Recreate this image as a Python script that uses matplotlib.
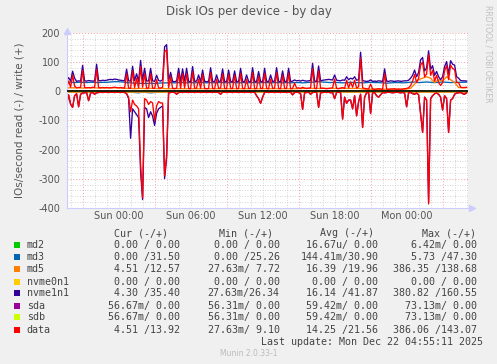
import numpy as np
import matplotlib
matplotlib.use("Agg")
import matplotlib.pyplot as plt
from matplotlib.patches import Rectangle

# time axis in hours relative to Sun 00:00, one sample per 10 minutes
t0 = -4.0 - 20.0 / 60.0
step = 10.0 / 60.0

# data (write, +) in IOs/s
data_wr = [13, 35, 14, 55, 18, 12, 13, 14, 72, 13,
           12, 13, 12, 14, 13, 75, 13, 12, 13, 12,
           13, 12, 12, 13, 14, 13, 12, 13, 12, 11,
           60, 11, 10, 70, 12, 45, 11, 85, 14, 60,
           10, 12, 60, 11, 10, 40, 12, 11, 14, 135,
           143, 12, 50, 10, 9, 11, 62, 10, 60, 11,
           60, 10, 9, 68, 10, 11, 42, 10, 58, 10,
           9, 10, 65, 10, 9, 42, 10, 11, 60, 10,
           9, 58, 10, 10, 55, 9, 10, 62, 10, 9,
           42, 10, 10, 65, 9, 10, 52, 10, 10, 62,
           10, 9, 42, 10, 11, 65, 10, 9, 55, 10,
           10, 62, 9, 10, 28, 11, 12, 10, 14, 11,
           10, 11, 12, 78, 10, 9, 70, 10, 11, 10,
           9, 10, 11, 12, 42, 10, 9, 11, 13, 10,
           38, 12, 32, 14, 38, 11, 16, 115, 12, 10,
           9, 8, 25, 8, 7, 8, 9, 8, 7, 60,
           8, 7, 8, 8, 9, 7, 8, 7, 8, 9,
           10, 12, 20, 35, 58, 30, 45, 90, 100, 50,
           60, 125, 55, 72, 35, 55, 30, 20, 30, 70,
           88, 40, 90, 78, 75, 30, 30, 14, 13, 13,
           14]
# data (read, -)
data_rd = [47, 12, 44, 55, 15, 8, 53, 10, 6, 5,
           4, 32, 6, 4, 10, 5, 4, 3, 4, 3,
           3, 4, 3, 3, 4, 3, 3, 4, 3, 4,
           8, 20, 70, 30, 45, 50, 60, 250, 365, 25,
           30, 45, 35, 40, 100, 50, 35, 40, 40, 290,
           220, 5, 4, 3, 4, 10, 4, 3, 4, 3,
           3, 4, 3, 3, 4, 3, 3, 4, 3, 3,
           4, 3, 3, 4, 3, 3, 4, 10, 3, 3,
           4, 3, 3, 4, 3, 3, 4, 3, 3, 4,
           3, 3, 4, 3, 3, 15, 25, 41, 20, 4,
           3, 4, 3, 3, 4, 3, 3, 4, 3, 3,
           4, 3, 3, 12, 4, 3, 4, 8, 62, 5,
           4, 3, 10, 4, 3, 4, 55, 5, 4, 3,
           4, 3, 5, 4, 25, 4, 3, 5, 95, 20,
           41, 30, 30, 60, 15, 84, 35, 10, 124, 20,
           5, 4, 76, 5, 4, 15, 20, 12, 4, 5,
           4, 3, 4, 5, 4, 3, 4, 5, 4, 6,
           53, 5, 4, 8, 10, 6, 12, 76, 141, 20,
           30, 386, 25, 15, 8, 6, 10, 20, 64, 15,
           25, 141, 30, 25, 10, 6, 5, 4, 8, 10,
           5]

nvme1_wr = [36, 47, 35, 69, 45, 34, 36, 35, 89, 36,
            35, 37, 36, 35, 36, 93, 37, 36, 38, 37,
            38, 40, 41, 40, 42, 41, 39, 38, 37, 36,
            76, 36, 35, 86, 37, 60, 34, 106, 38, 79,
            35, 36, 79, 36, 34, 55, 37, 35, 40, 153,
            160, 36, 65, 34, 33, 35, 79, 34, 77, 35,
            79, 34, 33, 85, 34, 35, 56, 33, 73, 34,
            33, 34, 81, 34, 33, 56, 34, 35, 77, 33,
            33, 73, 34, 33, 70, 33, 34, 79, 34, 33,
            56, 34, 33, 81, 33, 34, 68, 34, 33, 79,
            34, 33, 56, 34, 35, 81, 34, 33, 70, 34,
            33, 79, 33, 35, 39, 36, 37, 35, 38, 36,
            35, 36, 37, 96, 35, 34, 87, 36, 38, 39,
            40, 41, 40, 39, 56, 38, 37, 36, 39, 38,
            50, 40, 45, 42, 50, 38, 40, 134, 37, 35,
            34, 35, 39, 34, 35, 34, 36, 35, 34, 77,
            35, 34, 36, 35, 34, 35, 36, 34, 35, 36,
            36, 38, 45, 55, 73, 50, 65, 108, 116, 70,
            80, 139, 75, 88, 55, 68, 50, 40, 50, 85,
            102, 60, 105, 93, 90, 50, 45, 37, 36, 36,
            35]
nvme1_rd = [47, 12, 44, 55, 15, 8, 53, 10, 6, 5,
            4, 32, 6, 4, 10, 5, 4, 3, 4, 3,
            3, 4, 3, 3, 4, 3, 3, 4, 3, 4,
            8, 25, 161, 60, 70, 80, 90, 277, 371, 55,
            60, 90, 70, 85, 117, 75, 60, 55, 50, 299,
            230, 5, 4, 3, 4, 10, 4, 3, 4, 3,
            3, 4, 3, 3, 4, 3, 3, 4, 3, 3,
            4, 3, 3, 4, 3, 3, 4, 10, 3, 3,
            4, 3, 3, 4, 3, 3, 4, 3, 3, 4,
            3, 3, 4, 3, 3, 15, 25, 41, 20, 4,
            3, 4, 3, 3, 4, 3, 3, 4, 3, 3,
            4, 3, 3, 12, 4, 3, 4, 8, 62, 5,
            4, 3, 10, 4, 3, 4, 55, 5, 4, 3,
            4, 3, 5, 4, 25, 4, 3, 5, 95, 20,
            41, 30, 30, 60, 15, 84, 35, 10, 124, 20,
            5, 4, 76, 5, 4, 15, 20, 12, 4, 5,
            4, 3, 4, 5, 4, 3, 4, 5, 4, 6,
            53, 5, 4, 8, 10, 6, 12, 76, 141, 20,
            30, 381, 25, 15, 8, 6, 10, 20, 64, 15,
            25, 141, 30, 25, 10, 6, 5, 4, 8, 10,
            4]

# smoother series, one sample per 20 minutes
md3_wr = [31, 31, 30, 31, 31, 30, 31, 31, 30, 31,
          31, 32, 33, 33, 32, 30, 29, 28, 28, 27,
          27, 28, 27, 28, 29, 29, 30, 29, 30, 30,
          29, 30, 29, 30, 30, 29, 30, 29, 30, 30,
          29, 30, 30, 29, 30, 29, 30, 30, 29, 30,
          30, 29, 30, 30, 29, 30, 29, 30, 30, 29,
          30, 31, 32, 33, 32, 31, 30, 31, 30, 29,
          30, 31, 30, 30, 29, 30, 31, 30, 30, 29,
          28, 29, 30, 30, 29, 30, 31, 32, 30, 31,
          32, 31, 30, 31, 32, 31, 30, 31, 31, 31,
          31.5]
md3_rd = [0, 0, 0, 0, 0, 0, 0, 0, 0, 0,
          0, 0, 0, 0, 0, 1, 3, 4, 5, 3,
          4, 5, 4, 3, 2, 1, 0, 0, 0, 0,
          0, 0, 0, 0, 0, 0, 0, 0, 0, 0,
          0, 0, 0, 0, 0, 0, 0, 0, 0, 0,
          0, 0, 0, 0, 0, 0, 0, 0, 0, 0,
          0, 0, 0, 0, 0, 0, 0, 0, 0, 0,
          0, 0, 0, 0, 0, 0, 0, 0, 0, 0,
          0, 0, 0, 0, 0, 0, 0, 0, 0, 0,
          0, 0, 0, 0, 0, 0, 0, 0, 0, 0,
          0]
md5_wr = [12, 12, 12, 12, 11, 12, 12, 12, 11, 12,
          12, 12, 12, 12, 11, 10, 10, 9, 10, 10,
          9, 10, 10, 9, 10, 9, 9, 10, 9, 9,
          9, 9, 9, 9, 9, 9, 9, 9, 9, 9,
          9, 9, 9, 9, 9, 9, 9, 9, 9, 9,
          9, 9, 9, 9, 9, 9, 9, 9, 9, 10,
          10, 10, 10, 10, 10, 10, 10, 10, 10, 10,
          10, 10, 10, 10, 8, 7, 7, 7, 7, 7,
          7, 7, 7, 7, 7, 8, 10, 25, 40, 45,
          50, 45, 30, 40, 35, 50, 40, 30, 13, 12,
          12.5]
md5_rd = [3, 3, 3, 3, 3, 3, 3, 3, 3, 3,
          3, 3, 3, 3, 3, 3, 3, 3, 3, 3,
          3, 3, 3, 3, 3, 3, 3, 3, 3, 3,
          3, 3, 3, 3, 3, 3, 3, 3, 3, 3,
          3, 3, 3, 3, 3, 3, 3, 3, 3, 3,
          3, 3, 3, 3, 3, 3, 3, 3, 3, 3,
          3, 3, 3, 3, 3, 3, 3, 3, 3, 3,
          3, 3, 3, 3, 3, 3, 3, 3, 3, 3,
          3, 3, 3, 3, 3, 3, 3, 3, 3, 3,
          3, 3, 3, 3, 3, 3, 3, 3, 3, 3,
          4.5]

# devices that stay at zero all day
idle_names = ["md2", "nvme0n1", "sda", "sdb"]

legend_names = ["md2", "md3", "md5", "nvme0n1", "nvme1n1", "sda", "sdb", "data"]
legend_colors = ["#00CC00", "#0066B3", "#FF8000", "#FFCC00",
                 "#330099", "#990099", "#CCFF00", "#FF0000"]
cur_vals = ["0.00 / 0.00", "0.00 /31.50", "4.51 /12.57", "0.00 / 0.00",
            "4.30 /35.40", "56.67m/ 0.00", "56.67m/ 0.00", "4.51 /13.92"]
min_vals = ["0.00 / 0.00", "0.00 /25.26", "27.63m/ 7.72", "0.00 / 0.00",
            "27.63m/26.34", "56.31m/ 0.00", "56.31m/ 0.00", "27.63m/ 9.10"]
avg_vals = ["16.67u/ 0.00", "144.41m/30.90", "16.39 /19.96", "0.00 / 0.00",
            "16.14 /41.87", "59.42m/ 0.00", "59.42m/ 0.00", "14.25 /21.56"]
max_vals = ["6.42m/ 0.00", "5.73 /47.30", "386.35 /138.68", "0.00 / 0.00",
            "380.82 /160.55", "73.13m/ 0.00", "73.13m/ 0.00", "386.06 /143.07"]

ytick_vals = [200, 100, 0, -100, -200, -300, -400]
xtick_hours = [0, 6, 12, 18, 24]
xtick_labels = ["Sun 00:00", "Sun 06:00", "Sun 12:00", "Sun 18:00", "Mon 00:00"]

W, H = 497, 364
fig = plt.figure(figsize=(W / 100, H / 100), dpi=100, facecolor="#F0F0F0")


def fx(px):
    return px / W


def fy(py):
    return 1 - py / H


ax = fig.add_axes([fx(67), fy(208), (468 - 67) / W, (208 - 33) / H])
ax.set_facecolor("white")

x_lo, x_hi = -4.3, -4.3 + 401 / 12.0
ax.set_xlim(x_lo, x_hi)
ax.set_ylim(-400, 200)

# grid: grey dotted minor, red dotted major
for h in range(-4, 30):
    if (h + 3) % 6 == 0:
        ax.axvline(h, color="#F4A0A0", lw=0.7, ls=(0, (1, 2)), zorder=1)
    else:
        ax.axvline(h, color="#C8C8C8", lw=0.6, ls=(0, (1, 2)), zorder=0.5)
for v in range(-400, 201, 20):
    if v % 100 == 0:
        ax.axhline(v, color="#F4A0A0", lw=0.7, ls=(0, (1, 2)), zorder=1)
    else:
        ax.axhline(v, color="#C8C8C8", lw=0.6, ls=(0, (1, 2)), zorder=0.5)

t10 = t0 + step * np.arange(len(data_wr))
t20 = t0 + 2 * step * np.arange(len(md3_wr))
lw = 0.95

for name, col in zip(legend_names, legend_colors):
    if name in idle_names:
        ax.plot(t10, np.zeros(len(t10)), color=col, lw=lw, zorder=2)
    elif name == "md3":
        ax.plot(t20, -np.array(md3_rd), color=col, lw=lw, zorder=2)
        ax.plot(t20, md3_wr, color=col, lw=lw, zorder=2)
    elif name == "md5":
        ax.plot(t20, -np.array(md5_rd), color=col, lw=lw, zorder=2)
        ax.plot(t20, md5_wr, color=col, lw=lw, zorder=2)
    elif name == "nvme1n1":
        ax.plot(t10, -np.array(nvme1_rd), color=col, lw=lw, zorder=2)
        ax.plot(t10, nvme1_wr, color=col, lw=lw, zorder=2)
    elif name == "data":
        ax.plot(t10, -np.array(data_rd), color=col, lw=lw, zorder=2)
        ax.plot(t10, data_wr, color=col, lw=lw, zorder=2)

ax.axhline(0, color="black", lw=1.2, zorder=3)

# axes
for s in ["top", "right"]:
    ax.spines[s].set_visible(False)
ax.spines["left"].set_color("#CCCCFF")
ax.spines["bottom"].set_color("#CCCCFF")
ax.plot([x_lo], [206], marker="^", color="#CCCCFF", ms=4, clip_on=False, zorder=4)
ax.plot([x_hi + 0.3], [-400], marker=">", color="#CCCCFF", ms=4, clip_on=False, zorder=4)

ax.set_yticks(ytick_vals)
ax.set_yticklabels([str(v) for v in ytick_vals])
ax.set_xticks(xtick_hours)
ax.set_xticklabels(xtick_labels)
ax.tick_params(axis="y", length=0, pad=5, labelsize=7, labelcolor="#555555")
ax.tick_params(axis="x", length=0, pad=2.5, labelsize=7, labelcolor="#555555")

ax.set_ylabel("IOs/second read (-) / write (+)", fontsize=7.5, color="#555555", labelpad=10)

fig.text(0.5, fy(12), "Disk IOs per device - by day", ha="center", va="center",
         fontsize=8.5, color="#555555")
fig.text(fx(488), fy(5), "RRDTOOL / TOBI OETIKER", rotation=270, ha="center", va="top",
         fontsize=5.5, color="#C0C0C0")

# legend table
mono = "DejaVu Sans Mono"
fs = 7.2
tc = "#444444"
col_ends = [179.5, 279.5, 378.5, 477]
head_ends = [168.5, 272.7, 374, 476]
heads = ["Cur (-/+)", "Min (-/+)", "Avg (-/+)", "Max (-/+)"]
for hx, hd in zip(head_ends, heads):
    fig.text(fx(hx), fy(233.3), hd, ha="right", va="center", family=mono, fontsize=fs, color=tc)

row_y = [245, 257.3, 269.3, 281.7, 293.3, 305.7, 317.3, 329.7]
for k, name in enumerate(legend_names):
    y = row_y[k]
    fig.patches.append(Rectangle((fx(14), fy(y + 3)), 6 / W, 6 / H, transform=fig.transFigure,
                                 facecolor=legend_colors[k], edgecolor="none"))
    fig.text(fx(26.7), fy(y), name, ha="left", va="center", family=mono, fontsize=fs, color=tc)
    for cx, vals in zip(col_ends, [cur_vals, min_vals, avg_vals, max_vals]):
        fig.text(fx(cx), fy(y), vals[k], ha="right", va="center", family=mono, fontsize=fs, color=tc)

fig.text(fx(483), fy(341.7), "Last update: Mon Dec 22 04:55:11 2025", ha="right", va="center",
         family=mono, fontsize=fs, color=tc)
fig.text(fx(248.5), fy(353.3), "Munin 2.0.33-1", ha="center", va="center",
         fontsize=5.5, color="#BBBBBB")

fig.savefig("out.png", dpi=100, facecolor=fig.get_facecolor())
